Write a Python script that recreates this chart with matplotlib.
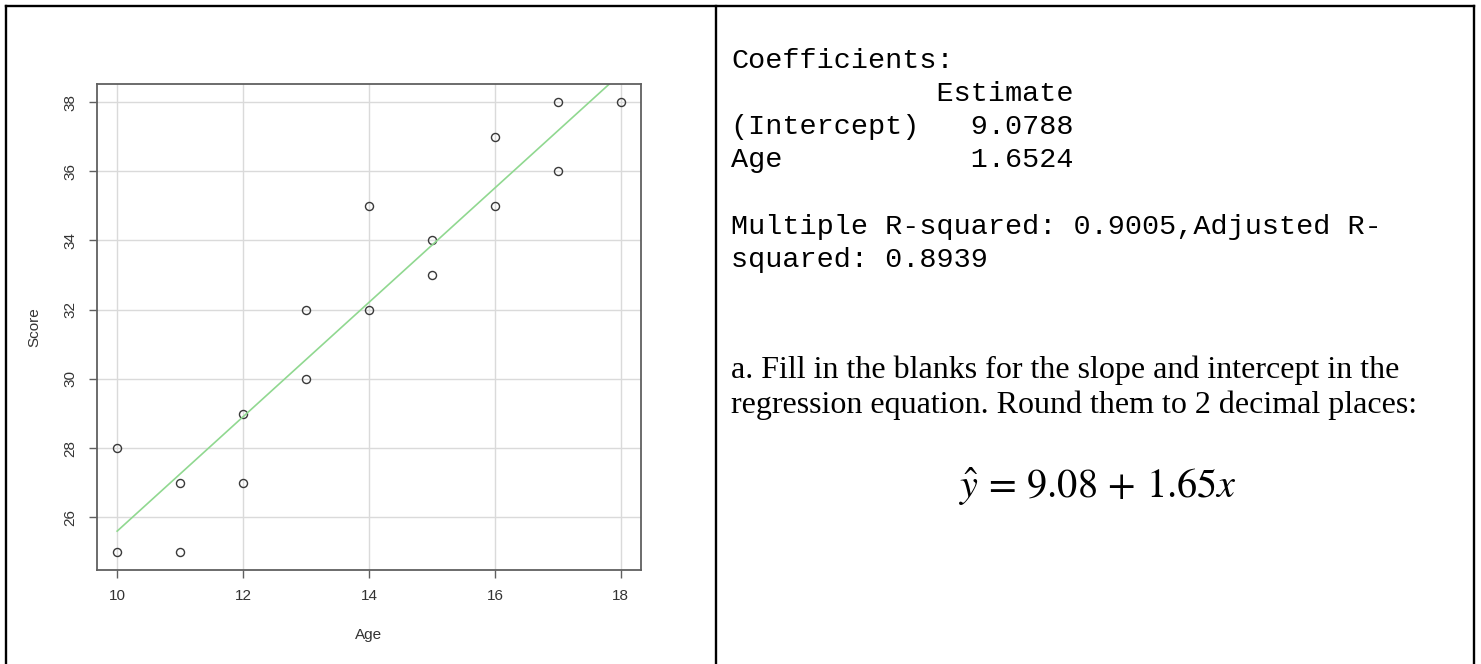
import numpy as np
import matplotlib
matplotlib.use('Agg')
import matplotlib.pyplot as plt

# ---------------------------
# Data
# ---------------------------
age = np.array([10, 10, 11, 11, 12, 12, 13, 13, 14, 14, 15, 15, 16, 16, 17, 17, 18])
score = np.array([25, 28, 25, 27, 27, 29, 30, 32, 32, 35, 33, 34, 35, 37, 36, 38, 38])

intercept = 9.0788
slope = 1.6524

x_ticks = [10, 12, 14, 16, 18]
y_ticks = [26, 28, 30, 32, 34, 36, 38]

coef_lines = [
    'Coefficients:',
    '            Estimate',
    '(Intercept)   9.0788',
    'Age           1.6524',
    '',
    'Multiple R-squared: 0.9005,Adjusted R-',
    'squared: 0.8939',
]
question_lines = [
    'a. Fill in the blanks for the slope and intercept in the',
    'regression equation. Round them to 2 decimal places:',
]
equation = r'$\hat{y}\,=\,9.08\,+\,1.65x$'

W, H = 1481, 664

# ---------------------------
# Figure + table frame (pixel coords)
# ---------------------------
plt.rcParams['mathtext.fontset'] = 'stix'
fig = plt.figure(figsize=(W / 100, H / 100), dpi=100)
bg = fig.add_axes([0, 0, 1, 1])
bg.set_xlim(0, W)
bg.set_ylim(H, 0)
bg.axis('off')

frame_kw = dict(color='black', lw=1.7, solid_capstyle='projecting')
bg.plot([6, 1474], [6, 6], **frame_kw)
bg.plot([6, 6], [6, H + 2], **frame_kw)
bg.plot([716, 716], [6, H + 2], **frame_kw)
bg.plot([1474, 1474], [6, H + 2], **frame_kw)

# ---------------------------
# Scatter plot (R style)
# ---------------------------
ax = fig.add_axes([97 / W, (H - 570) / H, 544 / W, 486 / H])
ax.set_xlim(9.68, 18.32)
ax.set_ylim(24.48, 38.52)

ax.grid(True, color='#dadada', lw=1)
ax.set_axisbelow(True)

ax.plot(age, score, 'o', ms=5.8, mfc='none', mec='#3a3a3a', mew=1)
line_x = np.array([age.min(), age.max()])
ax.plot(line_x, intercept + slope * line_x, color='#90d890', lw=1.2)

for s in ax.spines.values():
    s.set_color('#606060')
    s.set_linewidth(1.3)

lab_kw = dict(fontsize=11, family='Liberation Sans', color='#333333')
ax.set_xticks(x_ticks)
ax.set_yticks(y_ticks)
ax.set_xticklabels([str(t) for t in x_ticks], **lab_kw)
ax.set_yticklabels([str(t) for t in y_ticks], rotation=90, va='center', **lab_kw)
ax.tick_params(direction='out', length=6, width=1, color='#606060', pad=8)
ax.set_xlabel('Age', labelpad=18, **lab_kw)
ax.set_ylabel('Score', labelpad=16, **lab_kw)

# ---------------------------
# Right cell text
# ---------------------------
coef_y = [61, 94, 127, 160, 193, 227, 260]
for y, line in zip(coef_y, coef_lines):
    bg.text(731, y, line, family='Liberation Mono', fontsize=20.5, va='center', ha='left')

for y, line in zip([370, 405], question_lines):
    bg.text(731, y, line, family='Liberation Serif', fontsize=23, va='center', ha='left')

bg.text(1098, 487, equation, fontsize=29, va='center', ha='center')

fig.savefig('out.png', dpi=100)
